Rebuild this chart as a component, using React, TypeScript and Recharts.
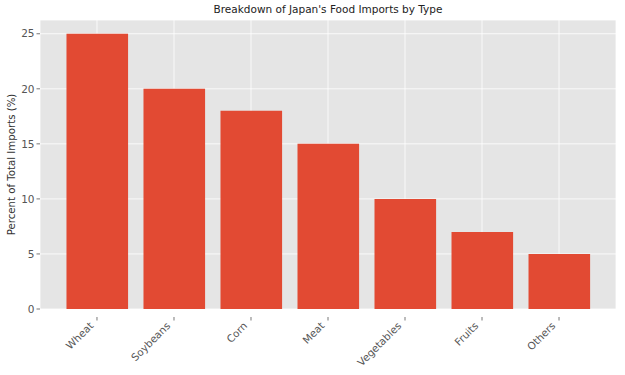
import { Bar, BarChart, CartesianGrid, Cell, XAxis, YAxis } from "recharts";

const categories = ["Wheat", "Soybeans", "Corn", "Meat", "Vegetables", "Fruits", "Others"];
const shares = [25, 20, 18, 15, 10, 7, 5];
const yTicks = [0, 5, 10, 15, 20, 25];
const xTicks = [0, 1, 2, 3, 4, 5, 6];

const data = categories.map((name, i) => ({ idx: i, name, value: shares[i] }));

const FONT = "DejaVu Sans, sans-serif";
const TICK_COLOR = "#555555";

function RotatedTick(props: any) {
  const { x, y, payload } = props;
  return (
    <g>
      <line x1={x} y1={y} x2={x} y2={y + 3.5} stroke={TICK_COLOR} strokeWidth={0.8} />
      <text
        transform={`translate(${x - 3},${y + 9.5}) rotate(-45)`}
        textAnchor="end"
        fill={TICK_COLOR}
        fontSize={10.3}
        fontFamily={FONT}
      >
        {categories[payload.value]}
      </text>
    </g>
  );
}

export default function App() {
  return (
    <div style={{ position: "fixed", left: 0, top: 0, width: 625, height: 375, background: "#fff" }}>
      <div
        style={{
          position: "absolute",
          left: 40,
          width: 576,
          top: 3,
          textAlign: "center",
          fontFamily: FONT,
          fontSize: 10.5,
          color: "#222",
        }}
      >
        Breakdown of Japan's Food Imports by Type
      </div>
      <BarChart
        width={625}
        height={375}
        data={data}
        margin={{ top: 20, right: 9, bottom: 0, left: 0 }}
      >
        <CartesianGrid stroke="#ffffff" strokeWidth={0.8} fill="#E5E5E5" fillOpacity={1} />
        <XAxis
          dataKey="idx"
          type="number"
          domain={[-0.74, 6.74]}
          allowDataOverflow
          ticks={xTicks}
          height={66}
          axisLine={false}
          tickLine={false}
          tick={<RotatedTick />}
          interval={0}
        />
        <YAxis
          type="number"
          domain={[0, 26.25]}
          allowDataOverflow
          ticks={yTicks}
          width={40}
          axisLine={false}
          tickSize={3.5}
          tickLine={{ stroke: TICK_COLOR, strokeWidth: 0.8 }}
          tick={{ fill: TICK_COLOR, fontSize: 10.5, fontFamily: FONT }}
          label={{
            value: "Percent of Total Imports (%)",
            angle: -90,
            position: "insideLeft",
            dx: 6,
            style: { textAnchor: "middle", fill: "#333", fontSize: 10.2, fontFamily: FONT },
          }}
        />
        <Bar dataKey="value" barSize={61.6} isAnimationActive={false}>
          {data.map((d) => (
            <Cell key={d.name} fill="#E24A33" />
          ))}
        </Bar>
      </BarChart>
    </div>
  );
}
